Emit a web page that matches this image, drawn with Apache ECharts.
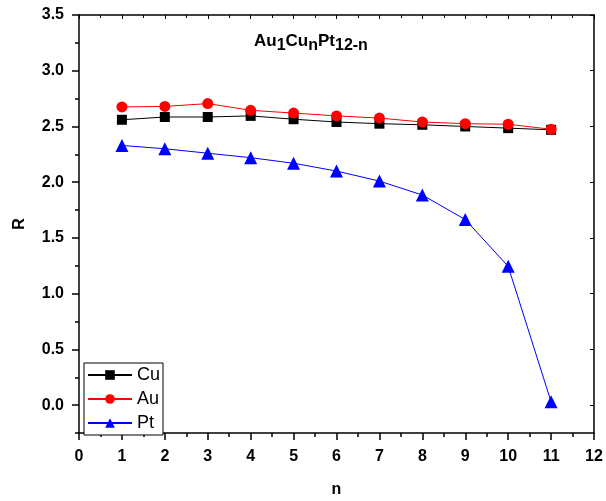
<!DOCTYPE html>
<html>
<head>
<meta charset="utf-8">
<script src="https://cdn.jsdelivr.net/npm/echarts@6/dist/echarts.min.js"></script>
<style>
  html, body { margin: 0; padding: 0; background: #fff; }
  #chart { width: 606px; height: 501px; }
</style>
</head>
<body>
<div id="chart"></div>
<script>
// n values and R for each element
var nValues = [1, 2, 3, 4, 5, 6, 7, 8, 9, 10, 11];
var cuR = [2.56, 2.585, 2.585, 2.595, 2.565, 2.54, 2.525, 2.515, 2.50, 2.485, 2.47];
var auR = [2.675, 2.68, 2.705, 2.645, 2.62, 2.595, 2.575, 2.54, 2.525, 2.52, 2.475];
var ptR = [2.33, 2.30, 2.26, 2.22, 2.17, 2.10, 2.01, 1.885, 1.665, 1.245, 0.03];
var yTicks = [0, 0.5, 1, 1.5, 2, 2.5, 3, 3.5];

function pairs(ys) {
  return nValues.map(function (n, i) { return [n, ys[i]]; });
}

var chart = echarts.init(document.getElementById('chart'));
var font = 'Arial, "Liberation Sans", sans-serif';
var black = { color: '#000', width: 1.5 };

var option = {
  backgroundColor: '#fff',
  animation: false,
  title: {
    left: 249,
    top: 25,
    text: '{a|Au}{s|1}{a|Cu}{s|n}{a|Pt}{s|12-n}',
    textStyle: {
      rich: {
        a: { fontFamily: font, fontWeight: 'bold', fontSize: 17, color: '#000', lineHeight: 22 },
        s: { fontFamily: font, fontWeight: 'bold', fontSize: 16, color: '#000', lineHeight: 22, padding: [10, 0, 0, 0] }
      }
    }
  },
  grid: { left: 79, right: 12, top: 15, bottom: 68, containLabel: false, outerBoundsMode: 'none' },
  legend: {
    orient: 'vertical',
    left: 84,
    top: 363,
    itemWidth: 44,
    itemHeight: 12,
    itemGap: 6,
    padding: [3, 3, 3, 3],
    borderColor: '#000',
    borderWidth: 1,
    borderRadius: 0,
    backgroundColor: '#fff',
    textStyle: { fontFamily: font, fontSize: 18, lineHeight: 18, color: '#000', padding: [0, 0, 0, 0] },
    data: ['Cu', 'Au', 'Pt']
  },
  xAxis: [{
    type: 'value',
    min: 0, max: 12, interval: 1,
    name: 'n',
    nameLocation: 'middle',
    nameGap: 49,
    nameTextStyle: { fontFamily: font, fontWeight: 'bold', fontSize: 16, color: '#000' },
    axisLine: { onZero: false, lineStyle: black },
    axisTick: { inside: false, length: 7, lineStyle: black },
    minorTick: { show: true, splitNumber: 2, length: 4, lineStyle: { color: '#000', width: 1.5 } },
    axisLabel: { fontFamily: font, fontWeight: 'bold', fontSize: 16, color: '#000', margin: 16 },
    splitLine: { show: false }
  }, {
    type: 'value', position: 'top',
    min: 0, max: 12, interval: 1,
    axisLine: { onZero: false, lineStyle: black },
    axisTick: { inside: true, length: 4, lineStyle: { color: '#000', width: 1 } },
    minorTick: { show: true, splitNumber: 2, length: 3, lineStyle: { color: '#000' } },
    axisLabel: { show: false },
    splitLine: { show: false }
  }],
  yAxis: [{
    type: 'value',
    min: -0.25, max: 3.5,
    name: 'R',
    nameLocation: 'middle',
    nameGap: 51,
    nameTextStyle: { fontFamily: font, fontWeight: 'bold', fontSize: 16, color: '#000' },
    axisLine: { show: true, onZero: false, lineStyle: black },
    axisTick: { inside: false, length: 7, customValues: yTicks, lineStyle: black },
    axisLabel: {
      fontFamily: font, fontWeight: 'bold', fontSize: 16, color: '#000', margin: 15,
      customValues: yTicks,
      formatter: function (v) { return v.toFixed(1); }
    },
    splitLine: { show: false }
  }, {
    // minor ticks every 0.25 on the left side
    type: 'value', position: 'left',
    min: -0.25, max: 3.5, interval: 0.25,
    axisLine: { show: false, onZero: false },
    axisTick: { show: true, inside: false, length: 4, lineStyle: black },
    axisLabel: { show: false },
    splitLine: { show: false }
  }, {
    type: 'value', position: 'right',
    min: -0.25, max: 3.5,
    axisLine: { show: true, onZero: false, lineStyle: black },
    axisTick: { inside: true, length: 4, customValues: yTicks, lineStyle: { color: '#000' } },
    axisLabel: { show: false },
    splitLine: { show: false }
  }],
  series: [{
    name: 'Cu', type: 'line',
    data: pairs(cuR),
    symbol: 'rect', symbolSize: 10,
    lineStyle: { color: '#000', width: 1 },
    itemStyle: { color: '#000' },
    z: 3
  }, {
    name: 'Au', type: 'line',
    data: pairs(auR),
    symbol: 'circle', symbolSize: 11,
    lineStyle: { color: '#ff0000', width: 1 },
    itemStyle: { color: '#ff0000' },
    z: 4
  }, {
    name: 'Pt', type: 'line',
    data: pairs(ptR),
    symbol: 'triangle', symbolSize: 13,
    lineStyle: { color: '#0000ff', width: 1 },
    itemStyle: { color: '#0000ff' },
    z: 5
  }]
};

chart.setOption(option);
</script>
</body>
</html>
